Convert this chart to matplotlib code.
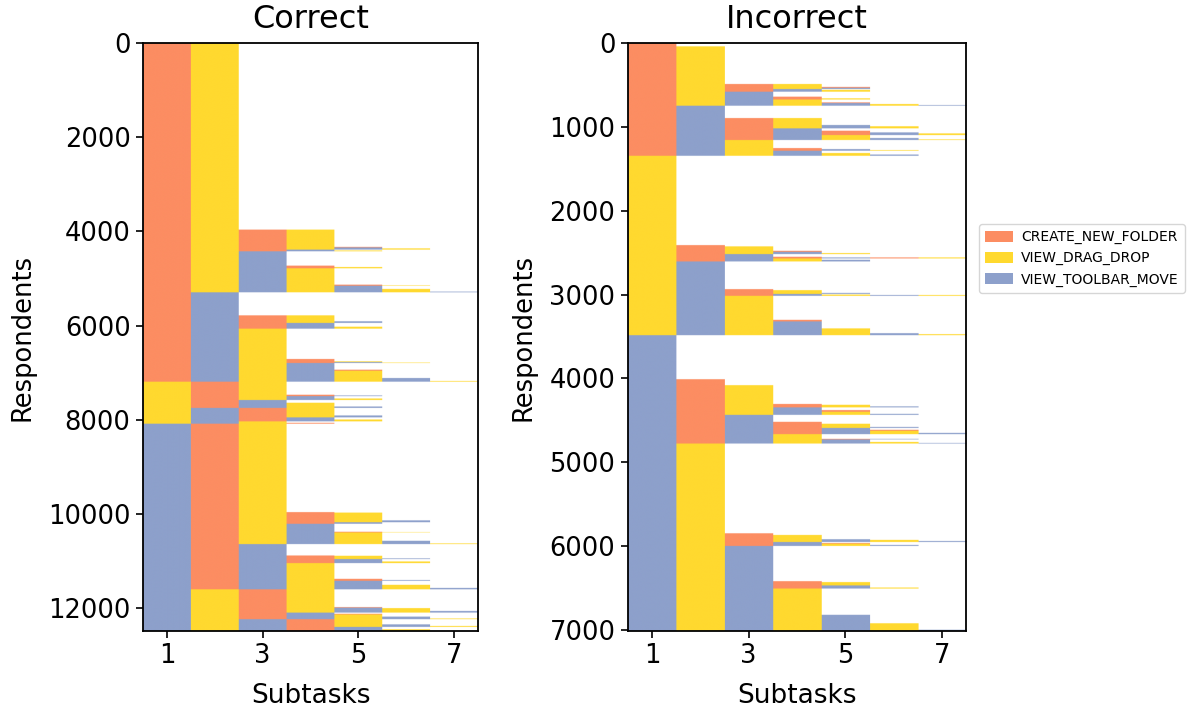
import numpy as np
import matplotlib.pyplot as plt
from matplotlib.colors import to_rgb
from matplotlib.patches import Patch

# subtask order used for sorting rows: C < D < T, finished sequences first
subtask_codes = 'CDT'
subtask_names = ['CREATE_NEW_FOLDER', 'VIEW_DRAG_DROP', 'VIEW_TOOLBAR_MOVE']
subtask_colors = ['#fc8d62', '#ffd92f', '#8da0cb']

# complete subtask sequences and how many respondents followed each one
correct_paths = [
    'CD', 'CDCD', 'CDCDC', 'CDCDT', 'CDCDTD', 'CDCT', 'CDCTD',
    'CDT', 'CDTC', 'CDTCD', 'CDTD', 'CDTDC', 'CDTDCD', 'CDTDT', 'CDTDTD', 'CDTDTDT',
    'CT', 'CTCD', 'CTCDT', 'CTCT', 'CTCTD', 'CTD', 'CTDC', 'CTDCD', 'CTDCT', 'CTDCTD',
    'CTDT', 'CTDTC', 'CTDTD', 'CTDTDT', 'CTDTDTD',
    'DCD', 'DCDC', 'DCDCT', 'DCDT', 'DCDTD', 'DCT', 'DCTD', 'DCTDT',
    'DTCD', 'DTCDT', 'DTCT', 'DTCTD', 'DTD', 'DTDC',
    'TCD', 'TCDC', 'TCDCD', 'TCDCDT', 'TCDCT', 'TCDT', 'TCDTC', 'TCDTCD', 'TCDTD',
    'TCDTDT', 'TCDTDTD', 'TCT', 'TCTC', 'TCTCD', 'TCTCDT', 'TCTCT', 'TCTCTD',
    'TCTD', 'TCTDC', 'TCTDCT', 'TCTDT', 'TCTDTD', 'TCTDTDT',
    'TDCD', 'TDCDC', 'TDCDT', 'TDCDTD', 'TDCDTDT', 'TDCT', 'TDCTC', 'TDCTD', 'TDCTDT',
    'TDCTDTD', 'TDTCD', 'TDTCDT', 'TDTCDTD', 'TDTCT', 'TDTCTD',
]
correct_counts = [
    3963, 367, 12, 20, 26, 18, 18,
    304, 30, 27, 347, 13, 10, 68, 57, 15,
    489, 126, 35, 80, 42, 644, 50, 15, 10, 10,
    142, 22, 155, 63, 15,
    277, 15, 15, 50, 32, 58, 80, 30,
    160, 41, 45, 40, 30, 19,
    1878, 10, 165, 40, 33, 169, 7, 8, 177,
    55, 15, 242, 6, 55, 15, 51, 35,
    334, 25, 17, 85, 66, 30,
    377, 12, 10, 60, 35, 25, 15, 45, 40,
    15, 110, 34, 20, 50, 37,
]

incorrect_paths = [
    'C', 'CD', 'CDCD', 'CDCDC', 'CDCDT', 'CDCT', 'CDCTD', 'CDT', 'CDTC', 'CDTCD',
    'CDTD', 'CDTDC', 'CDTDT', 'CDTDTD', 'CDTDTDT',
    'CT', 'CTCD', 'CTCDT', 'CTCDTD', 'CTCT', 'CTCTC', 'CTCTCT', 'CTCTCTD', 'CTCTD',
    'CTCTDT', 'CTCTDTD', 'CTD', 'CTDC', 'CTDCT', 'CTDCTD', 'CTDT', 'CTDTD', 'CTDTDT',
    'D', 'DC', 'DCD', 'DCDC', 'DCDT', 'DCDTD', 'DCT', 'DCTC', 'DCTCTCD', 'DCTD', 'DCTDT',
    'DT', 'DTC', 'DTCD', 'DTCDT', 'DTCT', 'DTCTD', 'DTCTDTD',
    'DTD', 'DTDC', 'DTDT', 'DTDTD', 'DTDTDT', 'DTDTDTD',
    'T', 'TC', 'TCD', 'TCDC', 'TCDCD', 'TCDCDT', 'TCDT', 'TCDTC', 'TCDTD', 'TCDTDT',
    'TCT', 'TCTC', 'TCTCD', 'TCTCDT', 'TCTCT', 'TCTCTC', 'TCTCTD', 'TCTCTDT',
    'TCTD', 'TCTDCT', 'TCTDT', 'TCTDTD', 'TCTDTDT',
    'TD', 'TDC', 'TDCD', 'TDCDT', 'TDCDTD', 'TDCDTDT', 'TDCT', 'TDCTC', 'TDCTD', 'TDCTDT',
    'TDT', 'TDTC', 'TDTCD', 'TDTCT', 'TDTCTD', 'TDTD', 'TDTDT', 'TDTDTD', 'TDTDTDT',
]
incorrect_counts = [
    40, 449, 35, 10, 15, 10, 22, 59, 20, 14,
    34, 8, 12, 12, 8,
    147, 83, 15, 25, 28, 20, 12, 20, 35,
    16, 8, 96, 12, 12, 8, 27, 18, 15,
    1065, 15, 53, 12, 15, 12, 32, 8, 12, 16, 20,
    330, 12, 33, 12, 8, 5, 10,
    286, 19, 83, 57, 12, 12,
    525, 71, 224, 10, 19, 12, 32, 20, 25, 12,
    83, 23, 38, 12, 22, 12, 25, 15,
    56, 7, 30, 12, 7,
    1070, 20, 51, 8, 13, 12, 12, 8, 15, 12,
    420, 11, 40, 25, 12, 313, 101, 77, 15,
]

n_subtasks = 7
col_px = 40  # image pixels per subtask column


def sequence_image(paths, counts):
    rgb = [to_rgb(c) for c in subtask_colors]
    order = sorted(range(len(paths)),
                   key=lambda i: [subtask_codes.index(s) for s in paths[i]])
    blocks = []
    for i in order:
        row = np.ones((n_subtasks, 3))
        for j, s in enumerate(paths[i]):
            row[j] = rgb[subtask_codes.index(s)]
        blocks.append(np.repeat(row[None], counts[i], axis=0))
    img = np.concatenate(blocks)
    return np.repeat(img, col_px, axis=1)


fig = plt.figure(figsize=(11.87, 7.12), dpi=100)
ax1 = fig.add_axes([0.1205, 0.1138, 0.2822, 0.8258])
ax2 = fig.add_axes([0.529, 0.1138, 0.2848, 0.8258])

panels = [(ax1, 'Correct', correct_paths, correct_counts, np.arange(0, 12001, 2000)),
          (ax2, 'Incorrect', incorrect_paths, incorrect_counts, np.arange(0, 7001, 1000))]

for ax, title, paths, counts, yticks in panels:
    img = sequence_image(paths, counts)
    n = img.shape[0]
    ax.imshow(img, aspect='auto', interpolation='hanning',
              extent=(0.5, n_subtasks + 0.5, n, 0))
    ax.set_xlim(0.5, n_subtasks + 0.5)
    ax.set_ylim(n, 0)
    ax.set_xticks([1, 3, 5, 7])
    ax.set_yticks(yticks)
    ax.tick_params(labelsize=18.5, width=1.2, length=5, pad=4)
    for sp in ax.spines.values():
        sp.set_linewidth(1.3)
    ax.set_title(title, fontsize=23, pad=11)
    ax.set_xlabel('Subtasks', fontsize=19, labelpad=10)
    ax.set_ylabel('Respondents', fontsize=18.5, labelpad=9)

handles = [Patch(facecolor=c, edgecolor='none') for c in subtask_colors]
fig.legend(handles, subtask_names, loc='upper right', fontsize=10,
           bbox_to_anchor=(1185 / 1187, 1 - 224 / 712), borderaxespad=0,
           borderpad=0.45, handlelength=2.0, handleheight=0.85,
           handletextpad=0.6, framealpha=0.8)

fig.savefig('out.png', dpi=100)
